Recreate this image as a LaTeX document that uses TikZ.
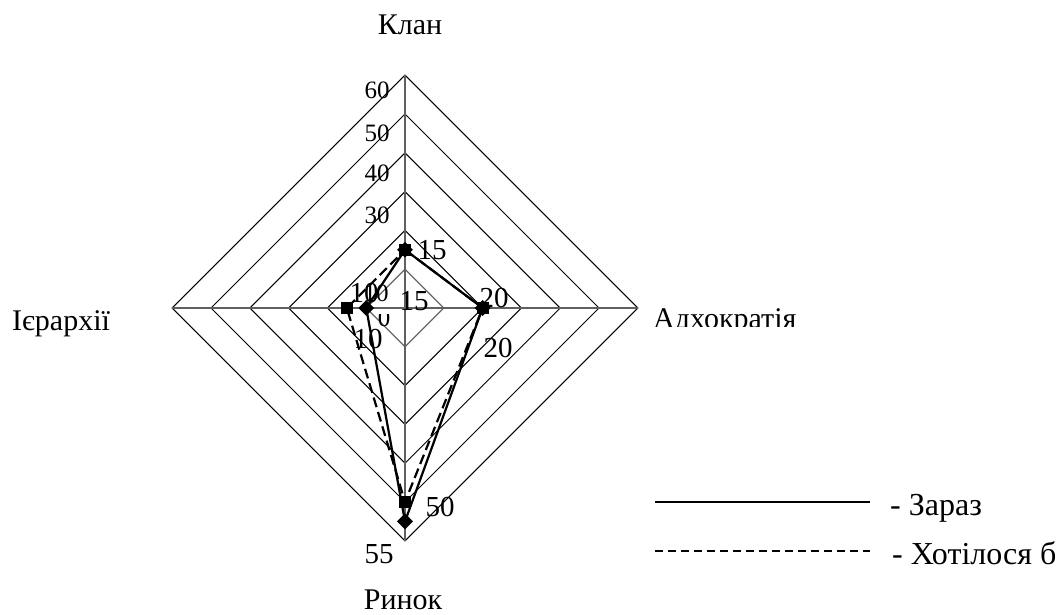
\documentclass[tikz,border=0pt]{standalone}
\usepackage{fontspec}
\setmainfont{Liberation Serif}
\usetikzlibrary{shapes.geometric}
\begin{document}
\begin{tikzpicture}[x=1pt, y=-1pt,
			grid/.style  = {draw=black, line width=1pt},
			ring1/.style = {draw=gray!80!black, line width=1.3pt},
			axis/.style  = {draw=gray!75!black, line width=1.3pt},
			zaraz/.style = {draw=black, line width=2.2pt, line join=round},
			bazh/.style  = {draw=black, line width=2.2pt, dash pattern=on 10pt off 5pt},
			sq/.style    = {fill=black, rectangle, minimum size=12pt, inner sep=0pt},
			romb/.style  = {fill=black, diamond, minimum size=16pt, inner sep=0pt},
			cat/.style   = {font=\fontsize{30}{33}\selectfont, inner sep=0pt, anchor=base},
			tick/.style  = {font=\fontsize{25}{27}\selectfont, inner sep=0pt},
			val/.style   = {font=\fontsize{29}{31}\selectfont, inner sep=0pt},
			leg/.style   = {font=\fontsize{32}{34}\selectfont, inner sep=0pt, anchor=base west}]
			
			\useasboundingbox (0,0) rectangle (1059,615);
			\def\u{3.88}
			\coordinate (c) at (405,308);
			
			% grid
			\foreach \r in {20,30,...,60}
			\draw[grid] (405,{308-\r*\u}) -- ({405+\r*\u},308) -- (405,{308+\r*\u}) -- ({405-\r*\u},308) -- cycle;
			\draw[ring1] (405,{308-10*\u}) -- ({405+10*\u},308) -- (405,{308+10*\u}) -- ({405-10*\u},308) -- cycle;
			
			\coordinate (kl) at (405,{308-60*\u});
			\coordinate (ad) at ({405+60*\u},308);
			\coordinate (ry) at (405,{308+60*\u});
			\coordinate (ie) at ({405-60*\u},308);
			\foreach \e in {kl,ad,ry,ie}
			\draw[axis] (c) -- (\e);
			
			% axis values
			\foreach \v/\y in {60/90, 50/133, 40/173, 30/215}
			\node[tick] (t\v) at (377,\y) {\v};
			\node[tick] (t10) at (376,293) {10};
			\begin{scope}
				\clip (370,314) rectangle (400,340);
				\node[tick] (t0) at (384,318) {0};
			\end{scope}
			
			% categories
			\node[cat] (klan) at (410,35) {Клан};
			\node[cat] (ierh) at (61,330) {Ієрархії};
			\node[cat] (rynok) at (403,609) {Ринок};
			\begin{scope}
				\clip (640,290) rectangle (840,326);
				\node[cat, anchor=base west] (adho) at (653,328) {Адхократія};
			\end{scope}
			
			% data
			\coordinate (z1) at (405,{308-15*\u});
			\coordinate (z2) at ({405+20*\u},308);
			\coordinate (z3) at (405,{308+55*\u});
			\coordinate (z4) at ({405-10*\u},308);
			\coordinate (h1) at (405,{308-15*\u});
			\coordinate (h2) at ({405+20*\u},308);
			\coordinate (h3) at (405,{308+50*\u});
			\coordinate (h4) at ({405-15*\u},308);
			
			\draw[bazh] (h1) -- (h2) -- (h3) -- (h4) -- cycle;
			\draw[zaraz] (z1) -- (z2) -- (z3) -- (z4) -- cycle;
			\foreach \p in {1,...,4} {
				\node[romb] (zm\p) at (z\p) {};
				\node[sq] (hm\p) at (h\p) {};
			}
			
			% data labels
			\node[val] (v1) at (432,250) {15};
			\node[val] (v2) at (414,301) {15};
			\node[val] (v3) at (494,298) {20};
			\node[val] (v4) at (498,348) {20};
			\node[val] (v5) at (440,507) {50};
			\node[val] (v6) at (379,554) {55};
			\node[val] (v7) at (368,339) {10};
			\node[val] (v8) at (364,293) {10};
			
			% legend
			\coordinate (l1a) at (655,502);
			\coordinate (l1b) at (870,502);
			\coordinate (l2a) at (655,551);
			\coordinate (l2b) at (870,551);
			\draw[zaraz] (l1a) -- (l1b);
			\draw[bazh, line width=1.4pt, dash pattern=on 8pt off 5pt] (l2a) -- (l2b);
			\node[leg] (lz) at (890,515) {- Зараз};
			\node[leg] (lh) at (892,564) {- Хотілося б};
		\end{tikzpicture}
\end{document}
